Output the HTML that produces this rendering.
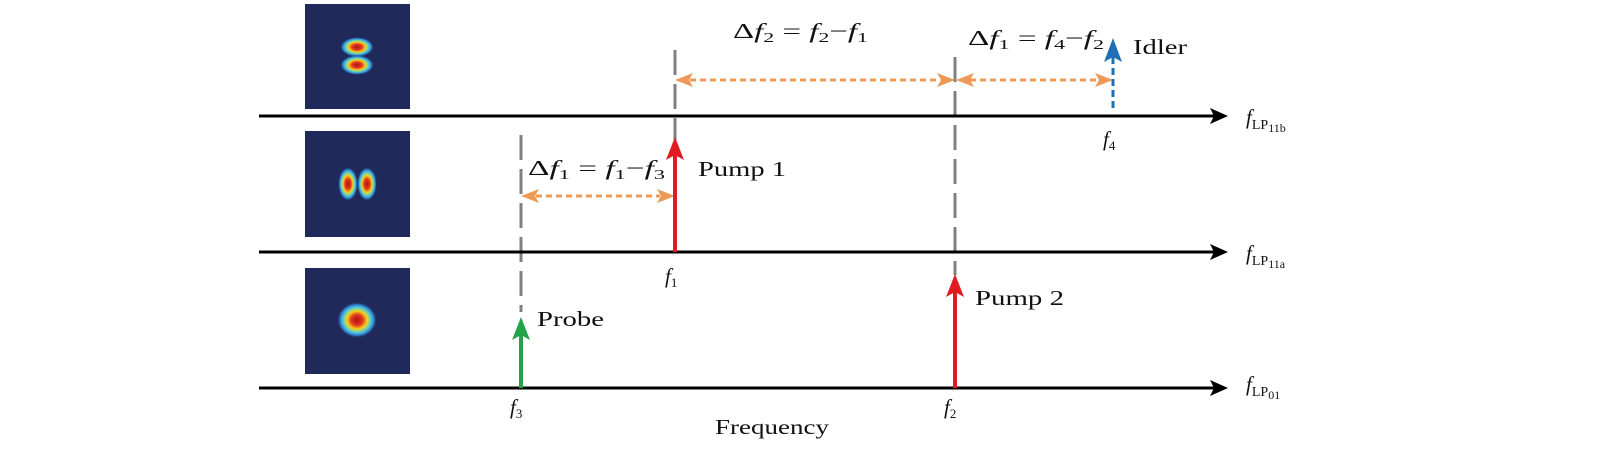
<!DOCTYPE html>
<html><head><meta charset="utf-8"><style>
html,body{margin:0;padding:0;background:#fff;width:1600px;height:461px;overflow:hidden}
svg{display:block}
text{font-family:"Liberation Serif",serif;fill:#111}
</style></head><body>
<svg width="1600" height="461" viewBox="0 0 1600 461" xmlns="http://www.w3.org/2000/svg">
<defs>
<radialGradient id="g"><stop offset="0" stop-color="#b0101a"/><stop offset="0.3" stop-color="#e43a1c"/><stop offset="0.5" stop-color="#f5d21a"/><stop offset="0.68" stop-color="#5fd0c8"/><stop offset="0.85" stop-color="#2a7fd4"/><stop offset="1" stop-color="#1f2a5a" stop-opacity="0"/></radialGradient>
</defs>
<rect x="305" y="4" width="105" height="105" fill="#1f2a5a"/>
<ellipse cx="357" cy="47" rx="17" ry="10" fill="url(#g)"/>
<ellipse cx="357" cy="65" rx="17" ry="10" fill="url(#g)"/>
<rect x="305" y="131" width="105" height="106" fill="#1f2a5a"/>
<ellipse cx="348" cy="184" rx="10" ry="17" fill="url(#g)"/>
<ellipse cx="367" cy="184" rx="10" ry="17" fill="url(#g)"/>
<rect x="305" y="268" width="105" height="106" fill="#1f2a5a"/>
<ellipse cx="357" cy="320" rx="20" ry="18" fill="url(#g)"/>
<g stroke="#808080" stroke-width="3" stroke-dasharray="25,9">
<line x1="675" y1="50" x2="675" y2="140"/>
<line x1="955" y1="57" x2="955" y2="275"/>
<line x1="521" y1="135" x2="521" y2="312"/>
</g>
<g stroke="#000" stroke-width="3">
<line x1="259" y1="116" x2="1215" y2="116"/>
<line x1="259" y1="252" x2="1215" y2="252"/>
<line x1="259" y1="388" x2="1215" y2="388"/>
</g>
<g fill="#000">
<path d="M1228,116 L1210,108 L1214,116 L1210,124z"/>
<path d="M1228,252 L1210,244 L1214,252 L1210,260z"/>
<path d="M1228,388 L1210,380 L1214,388 L1210,396z"/>
</g>
<g stroke="#ec9a55" stroke-width="3" stroke-dasharray="6,4">
<line x1="690" y1="80" x2="940" y2="80"/>
<line x1="970" y1="80" x2="1098" y2="80"/>
<line x1="536" y1="196" x2="660" y2="196"/>
</g>
<g fill="#ec9a55">
<path d="M675,80 L693,73 L689,80 L693,87z"/><path d="M955,80 L937,73 L941,80 L937,87z"/>
<path d="M956,80 L974,73 L970,80 L974,87z"/><path d="M1113,80 L1095,73 L1099,80 L1095,87z"/>
<path d="M521,196 L539,189 L535,196 L539,203z"/><path d="M675,196 L657,189 L661,196 L657,203z"/>
</g>
<line x1="675" y1="252" x2="675" y2="150" stroke="#e01b22" stroke-width="4"/>
<path d="M675,137 L666,160 L675,155 L684,160z" fill="#e01b22"/>
<line x1="955" y1="388" x2="955" y2="288" stroke="#e01b22" stroke-width="4"/>
<path d="M955,274 L946,297 L955,292 L964,297z" fill="#e01b22"/>
<line x1="521" y1="388" x2="521" y2="330" stroke="#22a447" stroke-width="4"/>
<path d="M521,317 L512,340 L521,335 L530,340z" fill="#22a447"/>
<line x1="1113" y1="108" x2="1113" y2="55" stroke="#1f6fb8" stroke-width="3" stroke-dasharray="7,4"/>
<path d="M1113,38 L1104,62 L1113,57 L1122,62z" fill="#1f6fb8"/>
<g font-size="21">
<text x="733" y="38" textLength="135" lengthAdjust="spacingAndGlyphs">Δ<tspan font-style="italic">f</tspan><tspan font-size="14" dy="4">2</tspan><tspan dy="-4"> = </tspan><tspan font-style="italic">f</tspan><tspan font-size="14" dy="4">2</tspan><tspan dy="-4">−</tspan><tspan font-style="italic">f</tspan><tspan font-size="14" dy="4">1</tspan></text>
<text x="968" y="45" textLength="136" lengthAdjust="spacingAndGlyphs">Δ<tspan font-style="italic">f</tspan><tspan font-size="14" dy="4">1</tspan><tspan dy="-4"> = </tspan><tspan font-style="italic">f</tspan><tspan font-size="14" dy="4">4</tspan><tspan dy="-4">−</tspan><tspan font-style="italic">f</tspan><tspan font-size="14" dy="4">2</tspan></text>
<text x="528" y="175" textLength="137" lengthAdjust="spacingAndGlyphs">Δ<tspan font-style="italic">f</tspan><tspan font-size="14" dy="4">1</tspan><tspan dy="-4"> = </tspan><tspan font-style="italic">f</tspan><tspan font-size="14" dy="4">1</tspan><tspan dy="-4">−</tspan><tspan font-style="italic">f</tspan><tspan font-size="14" dy="4">3</tspan></text>
<text x="1133" y="54" textLength="54" lengthAdjust="spacingAndGlyphs">Idler</text>
<text x="698" y="176" textLength="88" lengthAdjust="spacingAndGlyphs">Pump 1</text>
<text x="975" y="305" textLength="89" lengthAdjust="spacingAndGlyphs">Pump 2</text>
<text x="537" y="326" textLength="67" lengthAdjust="spacingAndGlyphs">Probe</text>
<text x="715" y="434" textLength="114" lengthAdjust="spacingAndGlyphs">Frequency</text>
<g font-style="italic">
<text x="1103" y="146">f<tspan font-size="13" dy="4" font-style="normal">4</tspan></text>
<text x="665" y="283">f<tspan font-size="13" dy="4" font-style="normal">1</tspan></text>
<text x="510" y="414">f<tspan font-size="13" dy="4" font-style="normal">3</tspan></text>
<text x="944" y="414">f<tspan font-size="13" dy="4" font-style="normal">2</tspan></text>
<text x="1246" y="124">f<tspan font-size="14" dy="5" font-style="normal">LP</tspan><tspan font-size="12" dy="3" font-style="normal">11b</tspan></text>
<text x="1246" y="260">f<tspan font-size="14" dy="5" font-style="normal">LP</tspan><tspan font-size="12" dy="3" font-style="normal">11a</tspan></text>
<text x="1246" y="391">f<tspan font-size="14" dy="5" font-style="normal">LP</tspan><tspan font-size="12" dy="3" font-style="normal">01</tspan></text>
</g>
</g>
</svg>
</body></html>
